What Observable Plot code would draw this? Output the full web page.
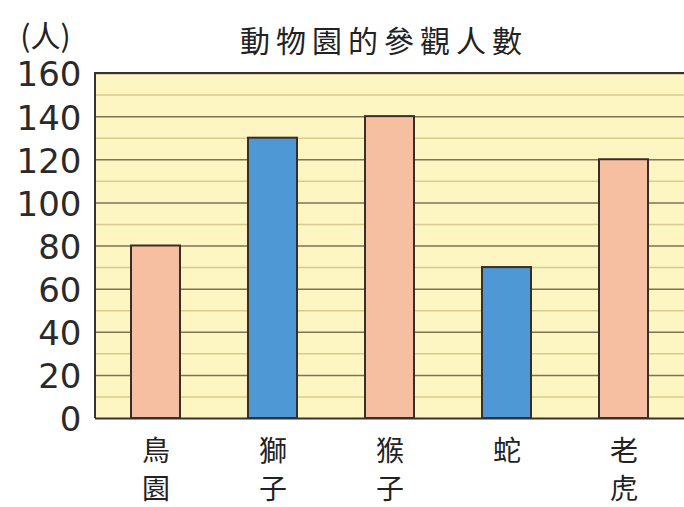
<!DOCTYPE html>
<html>
<head>
<meta charset="utf-8">
<script src="https://cdn.jsdelivr.net/npm/d3@7"></script>
<script src="https://cdn.jsdelivr.net/npm/@observablehq/plot@0.6"></script>
<style>
  html, body { margin: 0; padding: 0; background: #ffffff; }
  #chart { width: 684px; height: 507px; }
</style>
</head>
<body>
<div id="chart"></div>
<script>
const categories = ["鳥園", "獅子", "猴子", "蛇", "老虎"];
const labels = ["鳥\n園", "獅\n子", "猴\n子", "蛇", "老\n虎"];
const visitors = [80, 130, 140, 70, 120];
const barColors = ["#F7BFA2", "#4E98D6", "#F7BFA2", "#4E98D6", "#F7BFA2"];
const yTicks = [0, 20, 40, 60, 80, 100, 120, 140, 160];
const minorTicks = [10, 30, 50, 70, 90, 110, 130, 150];
const title = "動物園的參觀人數";
const unit = "(人)";

const data = categories.map((c, i) => ({ name: c, label: labels[i], value: visitors[i], color: barColors[i] }));

const cjk = "'Noto Sans CJK TC', 'Noto Sans CJK SC', sans-serif";

const chart = Plot.plot({
  width: 684,
  height: 507,
  marginLeft: 95,
  marginRight: 0,
  marginTop: 73,
  marginBottom: 89,
  style: { background: "#ffffff", fontFamily: cjk },
  x: { domain: categories, paddingInner: 0.58, paddingOuter: 0.29, align: 0.5, axis: null },
  y: { domain: [0, 160], axis: null },
  marks: [
    Plot.frame({ fill: "#FDF5C2", stroke: null }),
    Plot.ruleY(minorTicks, { stroke: "#D9CB8E", strokeWidth: 1.5 }),
    Plot.ruleY(yTicks.filter(d => d > 0), { stroke: "#7F7350", strokeWidth: 1.5 }),
    Plot.barY(data, { x: "name", y: "value", fill: "color", stroke: "#3a2c26", strokeWidth: 2 }),
    Plot.ruleY([0], { stroke: "#333333", strokeWidth: 2 }),
    Plot.axisY(yTicks, {
      label: null, tickSize: 0, tickPadding: 14, fontSize: 34, fill: "#2a2a2a",
      fontFamily: "'DejaVu Sans', sans-serif", dy: 2
    }),
    Plot.text(data, {
      x: "name", text: "label", frameAnchor: "bottom", lineAnchor: "top",
      dy: 15, fontSize: 28, lineHeight: 1.36, fill: "#222222", fontFamily: cjk
    }),
    Plot.text([title], {
      frameAnchor: "top", dy: -31, dx: -6, fontSize: 30, fill: "#222222", fontFamily: cjk, lineAnchor: "middle",
      className: "title-text"
    }),
    Plot.text([unit], {
      frameAnchor: "top-left", dx: -50, dy: -36, fontSize: 30, fill: "#222222", fontFamily: cjk, lineAnchor: "middle", textAnchor: "middle"
    })
  ]
});
document.getElementById("chart").appendChild(chart);
const svg = d3.select(chart);
svg.selectAll(".title-text text").style("letter-spacing", "6px");
svg.append("line").attr("x1", 95).attr("x2", 95).attr("y1", 73).attr("y2", 418).attr("stroke", "#333").attr("stroke-width", 2);
svg.append("line").attr("x1", 94).attr("x2", 684).attr("y1", 73).attr("y2", 73).attr("stroke", "#333").attr("stroke-width", 2);
</script>
</body>
</html>
